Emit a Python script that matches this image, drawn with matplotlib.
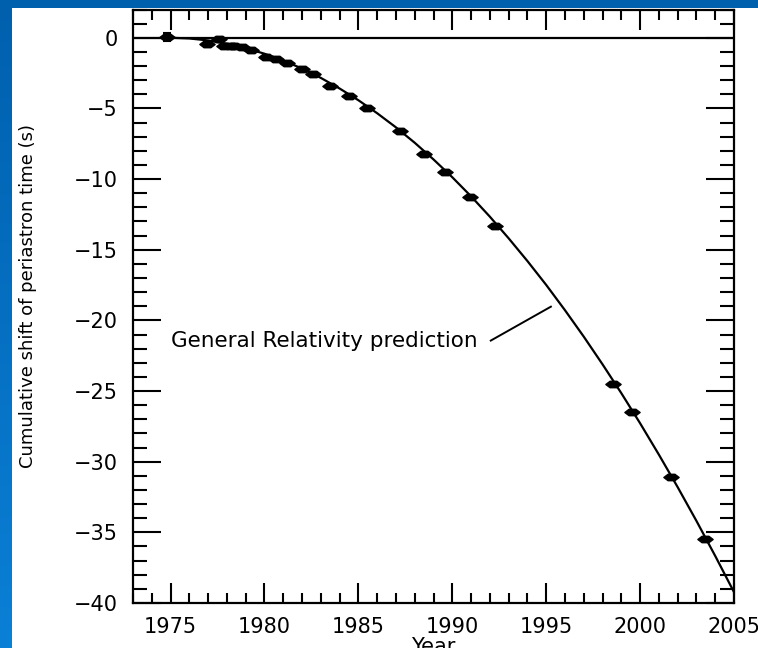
import numpy as np
import matplotlib
matplotlib.use("Agg")
import matplotlib.pyplot as plt
from matplotlib.patches import Rectangle
from matplotlib.colors import LinearSegmentedColormap
from matplotlib.path import Path

# ---- data ----
obs_year = [1974.8, 1976.95, 1977.57, 1977.84, 1978.2, 1978.37, 1978.8, 1979.26,
            1980.06, 1980.6, 1981.2, 1982.0, 1982.6, 1983.5, 1984.5, 1985.46,
            1987.23, 1988.47, 1989.63, 1990.92, 1992.29,
            1998.58, 1999.56, 2001.65, 2003.46]
obs_shift = [0.05, -0.45, -0.09, -0.56, -0.6, -0.56, -0.66, -0.9,
             -1.34, -1.48, -1.78, -2.2, -2.55, -3.39, -4.1, -4.97,
             -6.62, -8.2, -9.47, -11.29, -13.29,
             -24.47, -26.5, -31.07, -35.5]
obs_err = [0.3, 0.2, 0.1, 0.1, 0.1, 0.1, 0.1, 0.1,
           0.05, 0.05, 0.05, 0.05, 0.05, 0.05, 0.05, 0.05,
           0.05, 0.05, 0.05, 0.05, 0.05,
           0.05, 0.05, 0.05, 0.05]

gr_year = list(range(1975, 2006))
gr_shift = [0.0, -0.05, -0.19, -0.42, -0.73, -1.13, -1.61, -2.18, -2.84, -3.59,
            -4.42, -5.34, -6.34, -7.43, -8.61, -9.87, -11.22, -12.66, -14.19, -15.80,
            -17.49, -19.28, -21.15, -23.11, -25.15, -27.28, -29.50, -31.80, -34.19,
            -36.67, -39.23]

x_ticks = [1975, 1980, 1985, 1990, 1995, 2000, 2005]
y_ticks = [0, -5, -10, -15, -20, -25, -30, -35, -40]
label_text = "General Relativity prediction"

# ---- figure ----
W, H = 758, 648
fig = plt.figure(figsize=(W / 100, H / 100), dpi=100)

# blue slide background with vertical gradient
bg = fig.add_axes([0, 0, 1, 1], zorder=-10)
cmap = LinearSegmentedColormap.from_list("slide", ["#0060ae", "#0a80d6"])
bg.imshow(np.linspace(0, 1, 256).reshape(-1, 1), aspect="auto", cmap=cmap,
          extent=[0, 1, 0, 1], origin="upper")
bg.set_xlim(0, 1)
bg.set_ylim(0, 1)
bg.axis("off")
bg.add_patch(Rectangle((12 / W, 0), 1 - 12 / W, 1 - 8 / H, facecolor="white",
                       edgecolor="none", transform=bg.transAxes, zorder=2))

ax = fig.add_axes([133 / W, 1 - 603 / H, (734 - 133) / W, (603 - 9.5) / H])
ax.set_facecolor("none")

ax.plot(gr_year, gr_shift, color="black", lw=1.6, zorder=3)
ax.axhline(0, color="black", lw=1.6, zorder=3)

mk = Path([(-1, 0), (-0.45, 0.42), (0.45, 0.42), (1, 0), (0.45, -0.42), (-0.45, -0.42), (-1, 0)],
          [Path.MOVETO] + [Path.LINETO] * 5 + [Path.CLOSEPOLY])
ax.errorbar(obs_year, obs_shift, yerr=obs_err, fmt="none", ecolor="black",
            elinewidth=1.5, capsize=3, capthick=1.5, zorder=4)
ax.plot(obs_year, obs_shift, linestyle="none", marker=mk, markersize=11,
        color="black", zorder=5)

ax.text(1975.0, -21.43, label_text, fontsize=15.5, ha="left", va="center",
        family="DejaVu Sans", zorder=6)
ax.plot([1992.05, 1995.25], [-21.43, -19.03], color="black", lw=1.4, zorder=6)

ax.set_xlim(1973, 2005)
ax.set_ylim(-40, 2)
ax.set_xticks(x_ticks)
ax.set_xticklabels([str(t) for t in x_ticks])
ax.set_yticks(y_ticks)
ax.set_yticklabels([("\u2212" + str(-t)) if t < 0 else str(t) for t in y_ticks])
ax.set_xticks(np.arange(1973, 2006, 1), minor=True)
ax.set_yticks(np.arange(-40, 3, 1), minor=True)

for s in ax.spines.values():
    s.set_linewidth(1.6)

ax.tick_params(axis="both", which="both", direction="in", top=True, right=True,
               width=1.5, colors="black", labelsize=15)
ax.tick_params(axis="y", which="major", length=20, pad=11)
ax.tick_params(axis="y", which="minor", length=10)
ax.tick_params(axis="x", which="major", length=14.5, pad=10)
ax.tick_params(axis="x", which="minor", length=7)

ax.set_xlabel("Year", fontsize=15, labelpad=0)
ax.set_ylabel("Cumulative shift of periastron time (s)", fontsize=13,
              family="DejaVu Sans")
ax.yaxis.set_label_coords(-0.16, 0.517)

fig.savefig("out.png", dpi=100)
